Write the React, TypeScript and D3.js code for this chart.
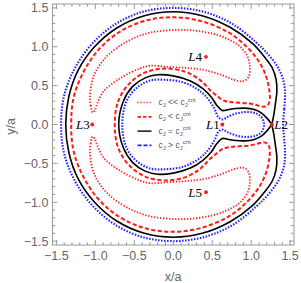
import React from 'react';
import * as d3 from 'd3';

type P = [number, number];

// Lagrange points
const lagrangeNames = ['L1', 'L2', 'L3', 'L4', 'L5'];
const lagrangeX = [0.63, 1.265, -1.04, 0.42, 0.42];
const lagrangeY = [0, 0, 0, 0.87, -0.87];

// Axis ticks
const majorTicks = [-1.5, -1.0, -0.5, 0.0, 0.5, 1.0, 1.5];
const tickLabels = ['\u22121.5', '\u22121.0', '\u22120.5', '0.0', '0.5', '1.0', '1.5'];
const minorTicks = [-1.4, -1.3, -1.2, -1.1, -0.9, -0.8, -0.7, -0.6, -0.4, -0.3, -0.2, -0.1,
  0.1, 0.2, 0.3, 0.4, 0.6, 0.7, 0.8, 0.9, 1.1, 1.2, 1.3, 1.4];

// Legend
const legendRel = ['<<', '<', '=', '>'];

// C_J > C_J^crit (blue dotted) — upper halves, traced right -> left
const blueOuterTop: P[] = [[1.41, 0], [1.425, 0.2], [1.435, 0.42], [1.41, 0.58], [1.34, 0.74], [1.22, 0.9],
  [1.06, 1.06], [0.75, 1.3], [0.39, 1.45], [0, 1.5], [-0.39, 1.45], [-0.745, 1.29], [-1.04, 1.04],
  [-1.26, 0.73], [-1.4, 0.375], [-1.44, 0]];
const blueInnerTop: P[] = [[1.165, 0], [1.14, 0.085], [1.07, 0.14], [0.95, 0.16], [0.82, 0.145], [0.7, 0.1],
  [0.63, 0.065], [0.575, 0.1], [0.53, 0.2], [0.43, 0.35], [0.3, 0.46], [0.12, 0.545], [-0.1, 0.575],
  [-0.3, 0.565], [-0.47, 0.47], [-0.6, 0.3], [-0.655, 0]];

// C_J = C_J^crit (black) — upper halves starting at L2
const blackOuterTop: P[] = [[1.265, 0], [1.29, 0.12], [1.31, 0.26], [1.33, 0.42], [1.32, 0.58], [1.27, 0.73],
  [1.17, 0.87], [1.02, 1.04], [0.73, 1.25], [0.37, 1.4], [0, 1.45], [-0.37, 1.4], [-0.72, 1.245],
  [-1.01, 1.0], [-1.22, 0.7], [-1.34, 0.36], [-1.38, 0]];
const blackInnerTop: P[] = [[1.265, 0], [1.2, 0.085], [1.13, 0.15], [1.03, 0.195], [0.92, 0.21], [0.8, 0.205],
  [0.7, 0.19], [0.63, 0.18], [0.56, 0.245], [0.49, 0.35], [0.38, 0.46], [0.22, 0.56], [0, 0.625],
  [-0.2, 0.64], [-0.36, 0.6], [-0.52, 0.49], [-0.64, 0.3], [-0.7, 0]];

// C_J < C_J^crit (red dashed) — horseshoe, upper half from inner-left to outer-left
const redDashedTop: P[] = [[-0.75, 0], [-0.71, 0.29], [-0.57, 0.52], [-0.36, 0.67], [-0.1, 0.72], [0.15, 0.68],
  [0.32, 0.59], [0.4, 0.52], [0.47, 0.445], [0.56, 0.37], [0.64, 0.31], [0.73, 0.29], [0.85, 0.28],
  [0.98, 0.27], [1.09, 0.245], [1.17, 0.23], [1.22, 0.26], [1.24, 0.33], [1.235, 0.42], [1.21, 0.56],
  [1.15, 0.72], [1.05, 0.88], [0.9, 1.04], [0.7, 1.19], [0.36, 1.33], [0, 1.38], [-0.36, 1.335],
  [-0.69, 1.19], [-0.96, 0.96], [-1.16, 0.66], [-1.28, 0.34], [-1.31, 0]];

// C_J << C_J^crit (red dotted) — tadpole around L4 (L5 is its mirror)
const redDottedL4: P[] = [[-1.035, 0.155], [-1.06, 0.24], [-1.07, 0.36], [-1.01, 0.65], [-0.83, 0.9],
  [-0.55, 1.09], [-0.3, 1.18], [0, 1.215], [0.25, 1.21], [0.5, 1.17], [0.7, 1.1], [0.86, 1.0],
  [0.955, 0.87], [0.985, 0.72], [0.96, 0.6], [0.89, 0.555], [0.78, 0.575], [0.6, 0.645], [0.4, 0.7],
  [0.2, 0.725], [-0.05, 0.74], [-0.3, 0.755], [-0.43, 0.72], [-0.69, 0.59], [-0.9, 0.42], [-0.99, 0.23],
  [-1.005, 0.185]];

const mir = (p: P): P => [p[0], -p[1]];
const closeMirror = (top: P[]): P[] => [...top, ...top.slice(1, -1).reverse().map(mir)];
const openMirror = (top: P[]): P[] => [...top, ...top.slice(0, -1).reverse().map(mir)];

export default function App() {
  const W = 301, H = 283;
  const x = d3.scaleLinear().domain([-1.55, 1.55]).range([52.5, 294]);
  const y = d3.scaleLinear().domain([-1.55, 1.55]).range([245, 4]);
  const closedLine = d3.line<P>().x(d => x(d[0])).y(d => y(d[1])).curve(d3.curveCatmullRomClosed.alpha(0.5));
  const openLine = d3.line<P>().x(d => x(d[0])).y(d => y(d[1])).curve(d3.curveCatmullRom.alpha(0.5));

  const gray = '#999';
  const tickText = '#666';
  const red = '#ff1a1a';
  const blue = '#1f1fff';

  const left = 52.5, right = 294, top = 4, bottom = 245;
  const tickEls: JSX.Element[] = [];
  majorTicks.forEach((t, i) => {
    tickEls.push(<line key={'bx' + i} x1={x(t)} x2={x(t)} y1={bottom} y2={bottom - 5} />);
    tickEls.push(<line key={'tx' + i} x1={x(t)} x2={x(t)} y1={top} y2={top + 5} />);
    tickEls.push(<line key={'ly' + i} x1={left} x2={left + 5} y1={y(t)} y2={y(t)} />);
    tickEls.push(<line key={'ry' + i} x1={right} x2={right - 5} y1={y(t)} y2={y(t)} />);
  });
  minorTicks.forEach((t, i) => {
    tickEls.push(<line key={'mbx' + i} x1={x(t)} x2={x(t)} y1={bottom} y2={bottom - 2.8} />);
    tickEls.push(<line key={'mtx' + i} x1={x(t)} x2={x(t)} y1={top} y2={top + 2.8} />);
    tickEls.push(<line key={'mly' + i} x1={left} x2={left + 2.8} y1={y(t)} y2={y(t)} />);
    tickEls.push(<line key={'mry' + i} x1={right} x2={right - 2.8} y1={y(t)} y2={y(t)} />);
  });

  const labelPos: { [k: string]: { dx: number; dy: number; anchor: string } } = {
    L1: { dx: -2.5, dy: 4.5, anchor: 'end' },
    L2: { dx: 2.5, dy: 4.5, anchor: 'start' },
    L3: { dx: -2.5, dy: 4.5, anchor: 'end' },
    L4: { dx: -4, dy: 4.5, anchor: 'end' },
    L5: { dx: -4, dy: 4.5, anchor: 'end' },
  };

  const legendStyles = [
    { stroke: red, dash: '1.2 1.8', w: 1.6 },
    { stroke: red, dash: '3.5 2', w: 1.7 },
    { stroke: '#000', dash: '', w: 1.4 },
    { stroke: blue, dash: '4 2', w: 1.9 },
  ];

  return (
    <svg width={W} height={H} style={{ position: 'absolute', left: 0, top: 0, background: '#fff' }}
      fontFamily="'Liberation Sans', Arial, sans-serif">
      <rect x={0} y={0} width={W} height={H} fill="#fff" />
      <g fill="none" strokeLinejoin="round">
        <path d={closedLine(redDottedL4) || ''} stroke={red} strokeWidth={1.8} strokeDasharray="1.3 1.7" />
        <path d={closedLine(redDottedL4.map(mir)) || ''} stroke={red} strokeWidth={1.8} strokeDasharray="1.3 1.7" />
        <path d={closedLine(closeMirror(redDashedTop)) || ''} stroke={red} strokeWidth={2} strokeDasharray="4.2 2.3" />
        <path d={openLine(openMirror(blackOuterTop)) || ''} stroke="#000" strokeWidth={1.6} />
        <path d={openLine(openMirror(blackInnerTop)) || ''} stroke="#000" strokeWidth={1.6} />
        <path d={closedLine(closeMirror(blueOuterTop)) || ''} stroke={blue} strokeWidth={2.1} strokeDasharray="1.5 1.5" />
        <path d={closedLine(closeMirror(blueInnerTop)) || ''} stroke={blue} strokeWidth={2.1} strokeDasharray="1.5 1.5" />
      </g>
      {lagrangeNames.map((n, i) => {
        const lp = labelPos[n];
        return (
          <g key={n}>
            <circle cx={x(lagrangeX[i])} cy={y(lagrangeY[i])} r={1.9} fill={red} />
            <text x={x(lagrangeX[i]) + lp.dx} y={y(lagrangeY[i]) + lp.dy} textAnchor={lp.anchor}
              fontFamily="'Liberation Serif', 'Times New Roman', serif" fontSize={13} fill="#000">
              <tspan fontStyle="italic">L</tspan>{n.slice(1)}
            </text>
          </g>
        );
      })}
      {legendRel.map((r, i) => {
        const ly = 102.5 + i * 14.3;
        const st = legendStyles[i];
        return (
          <g key={'lg' + i}>
            <line x1={137.5} x2={151.5} y1={ly} y2={ly} stroke={st.stroke} strokeWidth={st.w}
              strokeDasharray={st.dash || undefined} />
            <text x={158.5} y={ly + 2.5} fontSize={8.5} fill="#555">
              <tspan>c</tspan>
              <tspan fontSize={6} dy={2}>J</tspan>
              <tspan dy={-2}>{' ' + r + ' c'}</tspan>
              <tspan fontSize={6} dy={2}>J</tspan>
              <tspan fontSize={6} dy={-5.5}>crit</tspan>
            </text>
          </g>
        );
      })}
      <rect x={left} y={top} width={right - left} height={bottom - top} fill="none" stroke={gray} strokeWidth={1} />
      <g stroke={gray} strokeWidth={1}>{tickEls}</g>
      <g fontSize={12.5} fill={tickText}>
        {majorTicks.map((t, i) => (
          <text key={'xl' + i} x={x(t)} y={260} textAnchor="middle">{tickLabels[i]}</text>
        ))}
        {majorTicks.map((t, i) => (
          <text key={'yl' + i} x={48.5} y={y(t) + 4.5} textAnchor="end">{tickLabels[i]}</text>
        ))}
        <text x={173} y={281} textAnchor="middle">x/a</text>
        <text transform="translate(14.5,126.5) rotate(-90)" textAnchor="middle">y/a</text>
      </g>
    </svg>
  );
}
